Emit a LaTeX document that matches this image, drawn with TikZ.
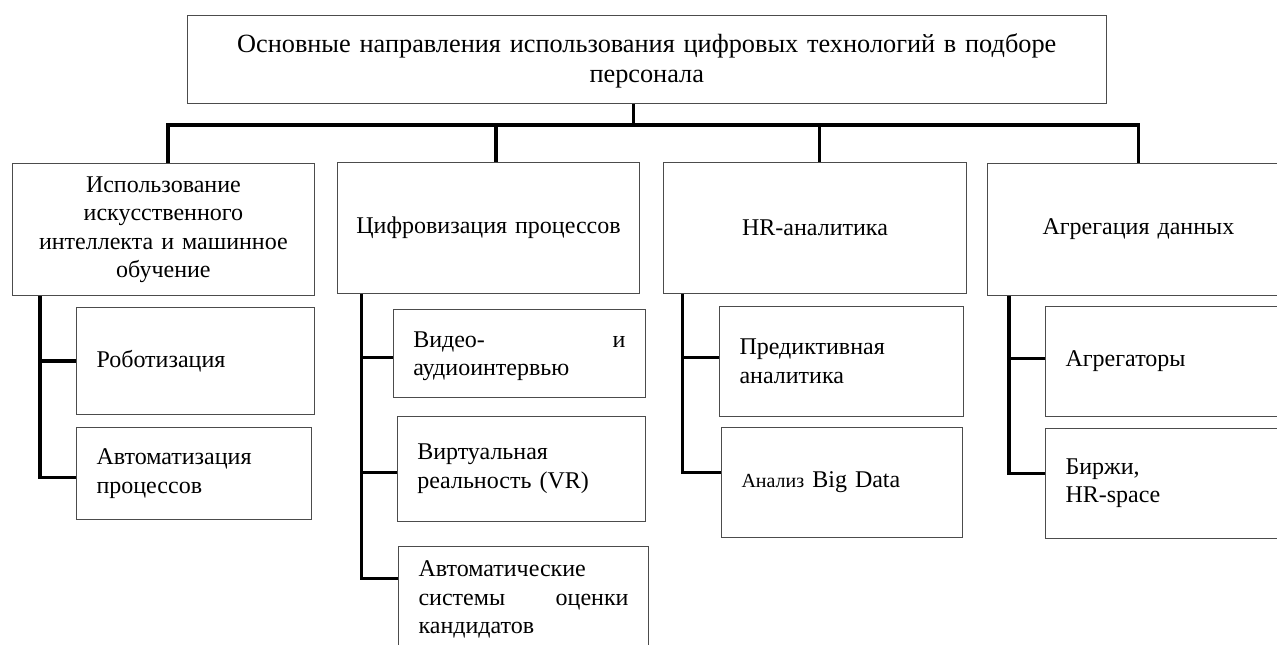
\documentclass[tikz,border=0pt]{standalone}
\usepackage{fontspec}
\setmainfont{Liberation Serif}
\begin{document}
\begin{tikzpicture}[x=1pt,y=-1pt,
  every node/.style={font=\fontsize{24}{28.5}\selectfont},
  boxc/.style={draw=black!70, line width=1.1pt, anchor=north west, inner ysep=0pt},
  mainbox/.style={boxc, inner xsep=8pt, align=center},
  subbox/.style={boxc, inner xsep=20pt, align=left},
  conn/.style={line width=3.3pt, black, line join=miter}]
\useasboundingbox (0,0) rectangle (1277,645);
\clip (0,0) rectangle (1277,645);

% top
\node[mainbox, text width=903pt, minimum height=88.6pt, font=\fontsize{26.3}{30.3}\selectfont] (top) at (186.7,14.7)
  {\rule{0pt}{22pt}Основные направления использования цифровых технологий в подборе\\персонала};

% level 1
\node[mainbox, text width=286.3pt, minimum height=132pt] (b1) at (11.7,163)
  {Использование\\искусственного\\интеллекта и машинное\\обучение};
\node[mainbox, text width=286.6pt, minimum height=130.7pt] (b2) at (336.7,162)
  {Цифровизация процессов};
\node[mainbox, text width=286.4pt, minimum height=130.7pt] (b3) at (663.3,162)
  {HR-аналитика};
\node[mainbox, text width=286.3pt, minimum height=132pt] (b4) at (986.7,163)
  {Агрегация данных};

% level 2
\node[subbox, text width=197.7pt, minimum height=107pt] (s11) at (76,307) {Роботизация};
\node[subbox, text width=195pt, minimum height=92.3pt] (s12) at (76,426.7) {Автоматизация\\процессов};

\node[subbox, text width=212.3pt, minimum height=88pt] (s21) at (392.7,309) {\rule{0pt}{21pt}Видео-\hfill и\\аудиоинтервью};
\node[subbox, text width=208.3pt, minimum height=104.7pt] (s22) at (396.7,416) {Виртуальная\\реальность (VR)};
\node[subbox, text width=210pt, minimum height=106.6pt] (s23) at (398,545.7) {Автоматические\\системы\hfill оценки\\кандидатов};

\node[subbox, text width=203.7pt, minimum height=110pt] (s31) at (719,305.7) {Предиктивная\\аналитика};
\node[subbox, text width=200.7pt, minimum height=110pt] (s32) at (721,426.7) {{\fontsize{20}{28.5}\selectfont Анализ} Big Data};

\node[subbox, text width=215pt, minimum height=110pt] (s41) at (1045,305.7) {Агрегаторы};
\node[subbox, text width=215pt, minimum height=109.7pt] (s42) at (1045,428) {Биржи,\\HR-space};

% bus coordinates
\coordinate (stub) at (633.3,125);
\coordinate (j1) at (168,125);
\coordinate (j2) at (496,125);
\coordinate (j3) at (819.3,125);
\coordinate (j4) at (1138.3,125);
\coordinate (c1) at (40,0);
\coordinate (c2) at (361.7,0);
\coordinate (c3) at (682.3,0);
\coordinate (c4) at (1009,0);
% branch points on the sub boxes
\coordinate (p11) at (s11.west);
\coordinate (p12) at ([yshift=-3.8pt]s12.west);
\coordinate (p21) at ([yshift=-4pt]s21.west);
\coordinate (p22) at ([yshift=-3.6pt]s22.west);
\coordinate (p23) at ([yshift=21pt]s23.west);
\coordinate (p31) at ([yshift=4pt]s31.west);
\coordinate (p32) at ([yshift=9.7pt]s32.west);
\coordinate (p41) at ([yshift=2.7pt]s41.west);
\coordinate (p42) at ([yshift=10pt]s42.west);

% top connectors
\draw[conn] (stub |- top.south) -- (stub);
\draw[conn] (j1 |- b1.north) -- (j1) -- (j4) -- (j4 |- b4.north);
\draw[conn] (j2) -- (j2 |- b2.north);
\draw[conn] (j3) -- (j3 |- b3.north);

% column 1
\draw[conn] (c1 |- b1.south) |- (p12);
\draw[conn] (c1 |- p11) -- (p11);
% column 2
\draw[conn] (c2 |- b2.south) |- (p23);
\draw[conn] (c2 |- p21) -- (p21);
\draw[conn] (c2 |- p22) -- (p22);
% column 3
\draw[conn] (c3 |- b3.south) |- (p32);
\draw[conn] (c3 |- p31) -- (p31);
% column 4
\draw[conn] (c4 |- b4.south) |- (p42);
\draw[conn] (c4 |- p41) -- (p41);
\end{tikzpicture}
\end{document}
